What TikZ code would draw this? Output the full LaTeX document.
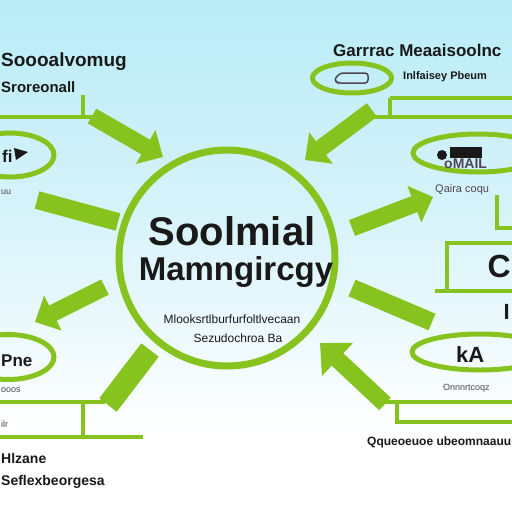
\documentclass[tikz,border=0pt]{standalone}
\usepackage{fontspec}
\setmainfont{Liberation Sans}
\usetikzlibrary{arrows.meta,shapes.geometric}
\definecolor{leaf}{RGB}{135,195,30}
\definecolor{bgtop}{RGB}{185,236,247}
\definecolor{bgmid}{RGB}{215,243,250}
\definecolor{ink}{RGB}{25,25,25}
\definecolor{grayink}{RGB}{80,70,85}
\begin{document}
\begin{tikzpicture}[x=1pt,y=-1pt,
  ring/.style={draw=leaf,line width=7pt,circle},
  oval/.style={draw=leaf,line width=5pt,ellipse,inner sep=0pt},
  rule/.style={draw=leaf,line width=4pt},
  barrow/.style={leaf,line width=17pt,-{Triangle[length=20pt,width=38pt]}},
  bstub/.style={leaf,line width=18pt},
  lbl/.style={anchor=west,inner sep=0pt,text=ink,font=\bfseries},
  small/.style={anchor=west,inner sep=0pt,text=grayink}]
\useasboundingbox (0,0) rectangle (512,512);
\shade[top color=bgtop,bottom color=white,middle color=bgmid] (0,0) rectangle (512,430);
\fill[white] (0,430) rectangle (512,512);

% arrows
\coordinate (a1s) at (92,116);  \coordinate (a1e) at (163,157);
\coordinate (a2s) at (37,200);  \coordinate (a2e) at (118,222);
\coordinate (a3s) at (105,287); \coordinate (a3e) at (35,322);
\coordinate (a4s) at (150,350); \coordinate (a4e) at (108,405);
\coordinate (a5s) at (372,110); \coordinate (a5e) at (305,160);
\coordinate (a6s) at (352,228); \coordinate (a6e) at (433,197);
\coordinate (a7s) at (352,288); \coordinate (a7e) at (432,322);
\coordinate (a8s) at (385,404); \coordinate (a8e) at (320,343);
\draw[barrow] (a1s) -- (a1e);
\draw[bstub] (a2s) -- (a2e);
\draw[barrow] (a3s) -- (a3e);
\draw[bstub,line width=22pt] (a4s) -- (a4e);
\draw[barrow] (a5s) -- (a5e);
\draw[barrow] (a6s) -- (a6e);
\draw[bstub] (a7s) -- (a7e);
\draw[barrow,-{Triangle[length=24pt,width=44pt]}] (a8s) -- (a8e);

% central circle
\node[ring,minimum size=216pt] (hub) at (227,258) {};
\node[lbl,anchor=center,font=\bfseries\fontsize{40}{42}\selectfont] (t1) at (232,231) {Soolmial};
\node[lbl,anchor=center,font=\bfseries\fontsize{33}{38}\selectfont] (t2) at (236,272) {Mamngircgy};
\node[small,anchor=center,text=ink,font=\fontsize{12}{14}\selectfont] (t3) at (232,319) {Mlooksrtlburfurfoltlvecaan};
\node[small,anchor=center,text=ink,font=\fontsize{12}{14}\selectfont] (t4) at (238,338) {Sezudochroa Ba};

% left top
\node[lbl,font=\bfseries\fontsize{19}{22}\selectfont] (l1) at (1,62) {Soooalvomug};
\node[lbl,font=\bfseries\fontsize{15}{18}\selectfont] (l2) at (1,87) {Sroreonall};
\coordinate (lb1) at (83,95); \coordinate (lb2) at (83,117);
\coordinate (lb3) at (0,117); \coordinate (lb4) at (100,117);
\draw[rule] (lb1) -- (lb2);
\draw[rule] (lb3) -- (lb4);
\node[oval,minimum width=88pt,minimum height=44pt] (le1) at (10,155) {};
\node[lbl,font=\bfseries\fontsize{17}{20}\selectfont] (le1t) at (2,156) {fi};
\fill[ink] (14,148) -- (28,152) -- (16,160) -- cycle;
\node[small,font=\fontsize{9}{10}\selectfont] (le1s) at (1,192) {uu};

% left bottom
\node[oval,minimum width=92pt,minimum height=45pt] (le2) at (8,357) {};
\node[lbl,font=\bfseries\fontsize{17}{20}\selectfont] (le2t) at (1,361) {Pne};
\node[small,font=\fontsize{9}{10}\selectfont] (le2s) at (1,390) {ooos};
\coordinate (lb5) at (0,402); \coordinate (lb6) at (105,402);
\coordinate (lb7) at (83,402); \coordinate (lb8) at (83,437);
\coordinate (lb9) at (0,437); \coordinate (lb10) at (143,437);
\draw[rule] (lb5) -- (lb6);
\draw[rule] (lb7) -- (lb8);
\draw[rule] (lb9) -- (lb10);
\node[small,font=\fontsize{9}{10}\selectfont] (lbs) at (1,424) {ilr};
\node[lbl,font=\bfseries\fontsize{14}{16}\selectfont] (lb1t) at (1,458) {Hlzane};
\node[lbl,font=\bfseries\fontsize{14}{16}\selectfont] (lb2t) at (1,482) {Seflexbeorgesa};

% right top
\node[lbl,font=\bfseries\fontsize{17}{20}\selectfont] (r1) at (333,50) {Garrrac Meaaisoolnc};
\node[oval,minimum width=79pt,minimum height=30pt] (re0) at (352,78) {};
\draw[grayink,line width=1.5pt,rounded corners=3pt] (334,80) -- (340,73) -- (368,73) -- (368,83) -- (338,83) -- cycle;
\node[lbl,font=\bfseries\fontsize{11}{13}\selectfont] (r2) at (403,77) {Inlfaisey Pbeum};
\coordinate (rb1) at (390,98); \coordinate (rb2) at (512,98);
\coordinate (rb3) at (390,117); \coordinate (rb4) at (362,117); \coordinate (rb5) at (512,117);
\draw[rule] (rb1) -- (rb2);
\draw[rule] (rb1) -- (rb3);
\draw[rule] (rb4) -- (rb5);

% right middle
\node[oval,minimum width=130pt,minimum height=38pt] (re1) at (478,153) {};
\fill[ink] (450,147) rectangle (482,158);
\fill[ink] (442,155) circle (5pt);
\node[lbl,text=grayink,font=\bfseries\fontsize{14}{16}\selectfont] (re1t) at (444,164) {oMAIL};
\node[small,font=\fontsize{11}{13}\selectfont] (re1s) at (435,190) {Qaira coqu};
\coordinate (rc1) at (497,195); \coordinate (rc2) at (497,228); \coordinate (rc3) at (512,228);
\draw[rule] (rc1) -- (rc2) -- (rc3);
\coordinate (rd1) at (512,243); \coordinate (rd2) at (447,243); \coordinate (rd3) at (447,291);
\coordinate (rd4) at (435,291); \coordinate (rd5) at (512,291);
\draw[rule] (rd1) -- (rd2) -- (rd3);
\draw[rule] (rd4) -- (rd5);
\node[lbl,anchor=east,font=\bfseries\fontsize{32}{36}\selectfont] (rC) at (511,266) {C};
\node[lbl,anchor=east,font=\bfseries\fontsize{22}{24}\selectfont] (rI) at (510,312) {I};

% right bottom
\node[oval,minimum width=136pt,minimum height=36pt] (re2) at (480,352) {};
\node[lbl,font=\bfseries\fontsize{22}{24}\selectfont] (re2t) at (456,355) {kA};
\node[small,font=\fontsize{9}{10}\selectfont] (re2s) at (443,388) {Onnnrtcoqz};
\coordinate (re3) at (380,402); \coordinate (re4) at (512,402);
\coordinate (re5) at (397,402); \coordinate (re6) at (397,422); \coordinate (re7) at (512,422);
\draw[rule] (re3) -- (re4);
\draw[rule] (re5) -- (re6) -- (re7);
\node[lbl,font=\bfseries\fontsize{12}{14}\selectfont] (rbt) at (367,442) {Qqueoeuoe ubeomnaauu};
\end{tikzpicture}
\end{document}
